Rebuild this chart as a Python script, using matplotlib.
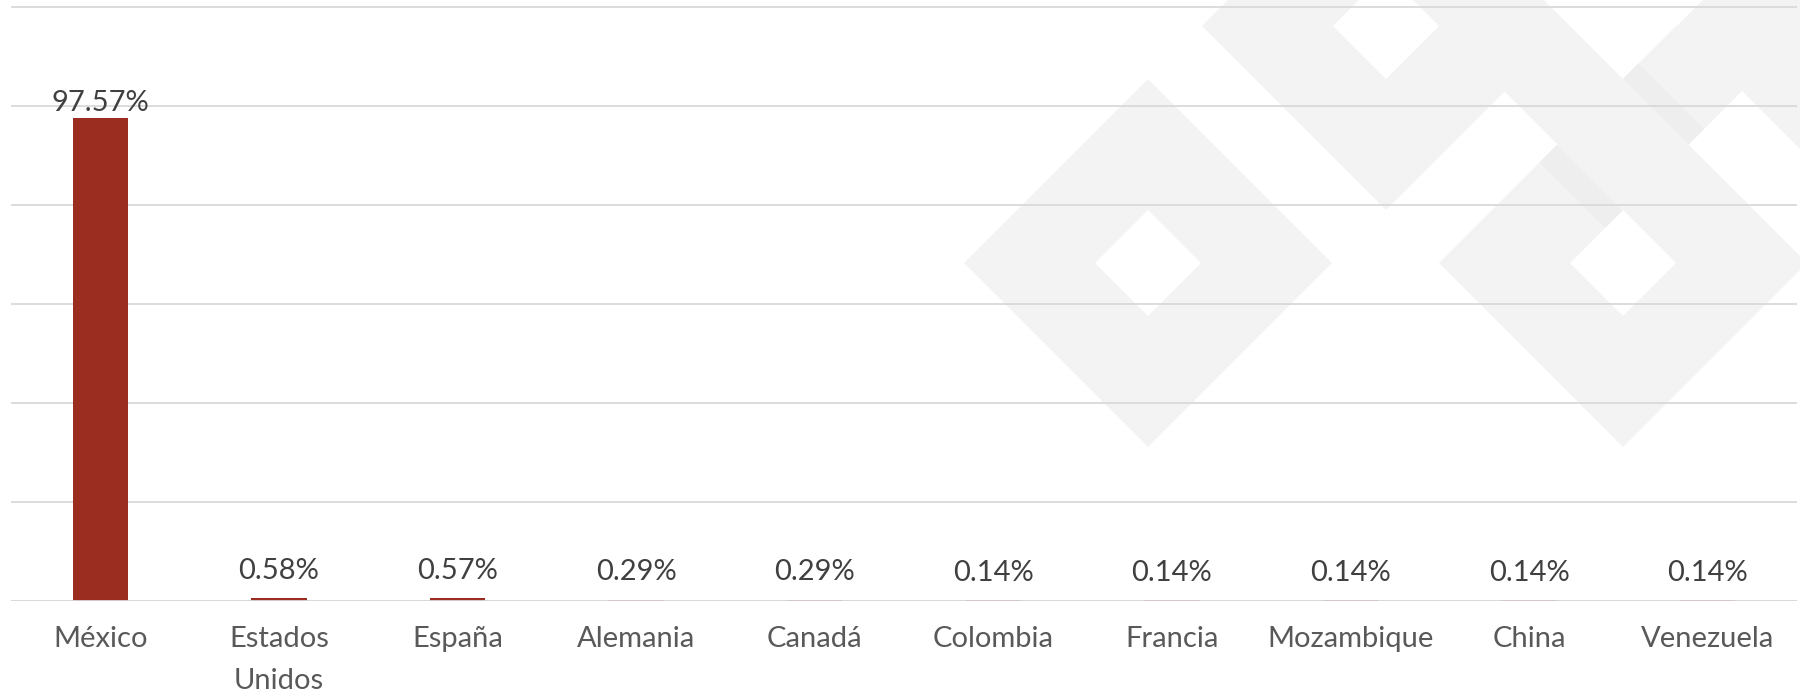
import matplotlib
matplotlib.use("Agg")
import matplotlib.pyplot as plt
from matplotlib.path import Path
from matplotlib.patches import PathPatch, Polygon

categories = ["México", "Estados\nUnidos", "España", "Alemania", "Canadá",
              "Colombia", "Francia", "Mozambique", "China", "Venezuela"]
values = [97.57, 0.58, 0.57, 0.29, 0.29, 0.14, 0.14, 0.14, 0.14, 0.14]
value_labels = ["97.57%", "0.58%", "0.57%", "0.29%", "0.29%",
                "0.14%", "0.14%", "0.14%", "0.14%", "0.14%"]
y_ticks = [0, 20, 40, 60, 80, 100, 120]

W, H = 1800, 697
fig = plt.figure(figsize=(W / 100, H / 100), dpi=100)
fig.patch.set_facecolor("white")

# ---- background watermark (decorative, in pixel coordinates) ----
bg = fig.add_axes([0, 0, 1, 1], zorder=0)
bg.set_xlim(0, W)
bg.set_ylim(H, 0)
bg.axis("off")

WM = "#f2f3f2"
WM_DARK = "#eeeeee"


def uv_rect(u0, u1, v0, v1):
    pts = [(u0, v0), (u1, v0), (u1, v1), (u0, v1)]
    return [((u + v) / 2.0, (u - v) / 2.0) for u, v in pts]


def ring(cx, cy, outer=184, inner=53):
    u, v = cx + cy, cx - cy
    o = uv_rect(u - outer, u + outer, v - outer, v + outer)
    i = uv_rect(u - inner, u + inner, v - inner, v + inner)[::-1]
    verts = o + [o[0]] + i + [i[0]]
    codes = ([Path.MOVETO] + [Path.LINETO] * 3 + [Path.CLOSEPOLY]) * 2
    return Path(verts, codes)


for cx, cy in [(1148, 263), (1623, 263), (1386, 26), (1861, 26)]:
    bg.add_patch(PathPatch(ring(cx, cy), facecolor=WM, edgecolor="none"))
for r in [(1596, 1702, 1413, 1544), (1702, 1833, 1544, 1651)]:
    bg.add_patch(Polygon(uv_rect(*r), closed=True, facecolor=WM, edgecolor="none"))
for r in [(1702, 1833, 1377, 1412), (1702, 1833, 1544, 1575)]:
    bg.add_patch(Polygon(uv_rect(*r), closed=True, facecolor=WM_DARK, edgecolor="none"))

# ---- main chart ----
left, right = 11 / W, 1797 / W
y0_px, y120_px = 601.0, 7.5
k = (y0_px - y120_px) / 120.0
ytop = 121.0
bottom = (H - y0_px) / H
top = (H - (y0_px - ytop * k)) / H
ax = fig.add_axes([left, bottom, right - left, top - bottom], zorder=1)
ax.set_facecolor("none")

GRID = "#d9d9d9"
x = list(range(len(categories)))
bars = ax.bar(x, values, width=0.31, color="#9B2D20", zorder=3)

ax.set_xlim(-0.5, len(categories) - 0.5)
ax.set_ylim(0, ytop)
ax.set_yticks(y_ticks)
ax.yaxis.grid(True, color=GRID, linewidth=1.3, zorder=1)
ax.set_axisbelow(True)
ax.axhline(0, color=GRID, linewidth=1.3, zorder=4)
ax.tick_params(axis="y", left=False, labelleft=False)
ax.tick_params(axis="x", length=0, pad=18)
for s in ax.spines.values():
    s.set_visible(False)

ax.set_xticks(x)
ax.set_xticklabels(categories, fontsize=21, color="#595959", family="Lato",
                   linespacing=1.75, va="top")

for i, (b, lab) in enumerate(zip(bars, value_labels)):
    gap = 5 if values[i] > 10 else 14
    ax.annotate(lab, (b.get_x() + b.get_width() / 2, b.get_height()),
                xytext=(0, gap), textcoords="offset points",
                ha="center", va="baseline", fontsize=21, color="#404040",
                family="Lato")

fig.savefig("out.png", dpi=100, facecolor="white")
